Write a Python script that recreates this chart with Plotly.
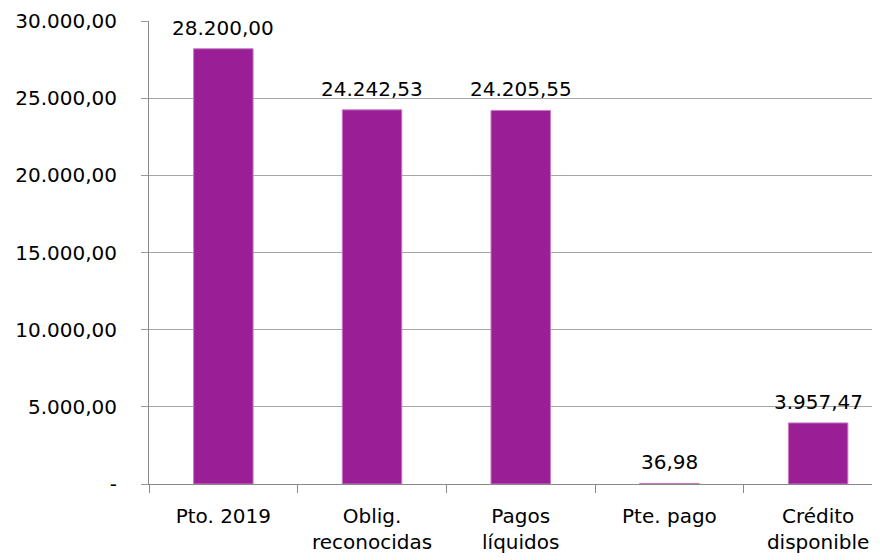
import plotly.graph_objects as go

categories = ["Pto. 2019", "Oblig.<br>reconocidas", "Pagos<br>líquidos", "Pte. pago", "Crédito<br>disponible"]
values = [28200.00, 24242.53, 24205.55, 36.98, 3957.47]
y_tickvals = [0, 5000, 10000, 15000, 20000, 25000, 30000]
y_ticktext = ["-", "5.000,00", "10.000,00", "15.000,00", "20.000,00", "25.000,00", "30.000,00"]

FONT = "DejaVu Sans"


def es_fmt(v):
    return f"{v:,.2f}".replace(",", "X").replace(".", ",").replace("X", ".")


fig = go.Figure(go.Bar(
    x=categories,
    y=values,
    marker=dict(color="#9A1E96", line=dict(color="#C77BC4", width=1)),
    hoverinfo="skip",
))

for c, v in zip(categories, values):
    fig.add_annotation(
        x=c, y=v, text=es_fmt(v), showarrow=False,
        yanchor="bottom", yshift=7,
        font=dict(family=FONT, size=20, color="#000000"),
    )

fig.update_layout(
    width=880, height=560,
    margin=dict(l=141, r=0, t=13, b=84, pad=0),
    paper_bgcolor="white", plot_bgcolor="white",
    separators=",.",
    bargap=0.6,
    showlegend=False,
    font=dict(family=FONT, size=20, color="#000000"),
)
fig.update_xaxes(
    type="category",
    range=[-0.5, 4.47],
    automargin=False,
    tickson="boundaries",
    ticks="outside", ticklen=8, tickcolor="#888888", tickwidth=1,
    showline=True, linecolor="#888888", linewidth=1,
    showgrid=False,
    ticklabelstandoff=14,
    tickfont=dict(family=FONT, size=20, color="#000000"),
)
fig.update_yaxes(
    range=[0, 30000],
    automargin=False,
    tickvals=y_tickvals, ticktext=y_ticktext,
    ticks="outside", ticklen=7, tickcolor="#999999",
    showline=True, linecolor="#888888", linewidth=1,
    showgrid=True, gridcolor="#A6A6A6", gridwidth=1,
    zeroline=False,
    ticklabelstandoff=20,
    tickfont=dict(family=FONT, size=20, color="#000000"),
)

fig.write_html("out.html")
